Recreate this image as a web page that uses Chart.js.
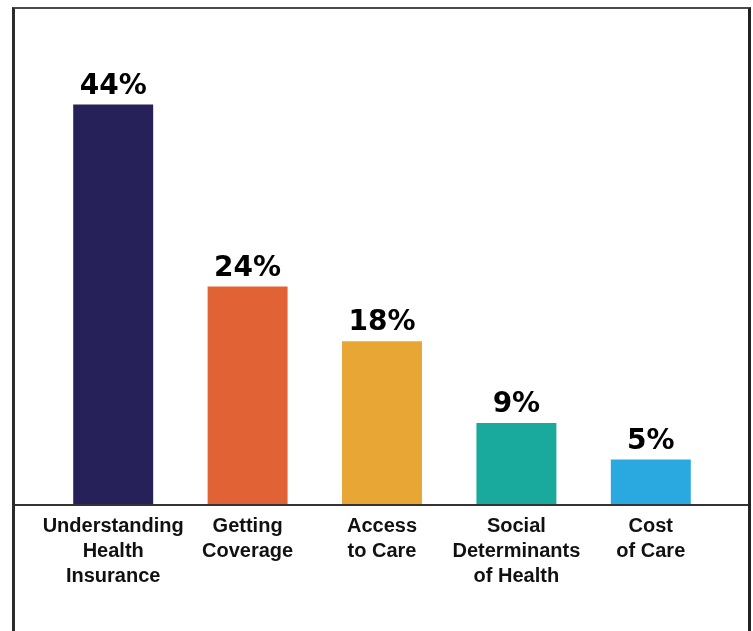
<!DOCTYPE html>
<html>
<head>
<meta charset="utf-8">
<script src="https://cdn.jsdelivr.net/npm/chart.js"></script>
<style>
    html, body { margin: 0; padding: 0; background: #fff; overflow: hidden; }
    #frame {
        position: absolute; left: 12px; top: 7px; width: 733px; height: 700px;
        border-left: 3px solid #2b2b2b; border-top: 2px solid #4a4a4a; border-right: 3px solid #222;
    }
    #chart { display: block; }
</style>
</head>
<body>
<div id="frame"><canvas id="chart" width="733" height="622"></canvas></div>
<script>
    const categories = [
        ["Understanding", "Health", "Insurance"],
        ["Getting", "Coverage"],
        ["Access", "to Care"],
        ["Social", "Determinants", "of Health"],
        ["Cost", "of Care"]
    ];
    const values = [44, 24, 18, 9, 5];
    const barColors = ["#262158", "#E06235", "#E8A735", "#1AA99D", "#2AA9E0"];

    // percent labels above bars + full width baseline
    const valueLabels = {
        id: "valueLabels",
        afterDatasetsDraw(chart) {
            const ctx = chart.ctx;
            const area = chart.chartArea;
            ctx.save();
            ctx.strokeStyle = "#333";
            ctx.lineWidth = 2;
            ctx.beginPath();
            ctx.moveTo(0, area.bottom);
            ctx.lineTo(chart.width, area.bottom);
            ctx.stroke();

            ctx.fillStyle = "#000";
            ctx.font = "bold 28px 'DejaVu Sans'";
            ctx.textAlign = "center";
            ctx.textBaseline = "alphabetic";
            chart.getDatasetMeta(0).data.forEach((bar, i) => {
                ctx.fillText(values[i] + "%", bar.x, bar.y - 11);
            });
            ctx.restore();
        }
    };

    new Chart(document.getElementById("chart"), {
        type: "bar",
        data: {
            labels: categories,
            datasets: [{
                data: values,
                backgroundColor: barColors,
                borderWidth: 0,
                categoryPercentage: 1,
                barPercentage: 0.595
            }]
        },
        options: {
            responsive: false,
            animation: false,
            layout: { padding: { left: 31, right: 30, top: 41, bottom: 0 } },
            plugins: { legend: { display: false }, tooltip: { enabled: false } },
            scales: {
                x: {
                    grid: { display: false },
                    border: { display: false },
                    ticks: {
                        color: "#111",
                        padding: 1,
                        maxRotation: 0,
                        autoSkip: false,
                        font: { family: "'Liberation Sans'", size: 20, weight: "bold", lineHeight: 1.25 }
                    },
                    afterFit(scale) { scale.height = 126; }
                },
                y: { display: false, min: 0, max: 50 }
            }
        },
        plugins: [valueLabels]
    });
</script>
</body>
</html>
